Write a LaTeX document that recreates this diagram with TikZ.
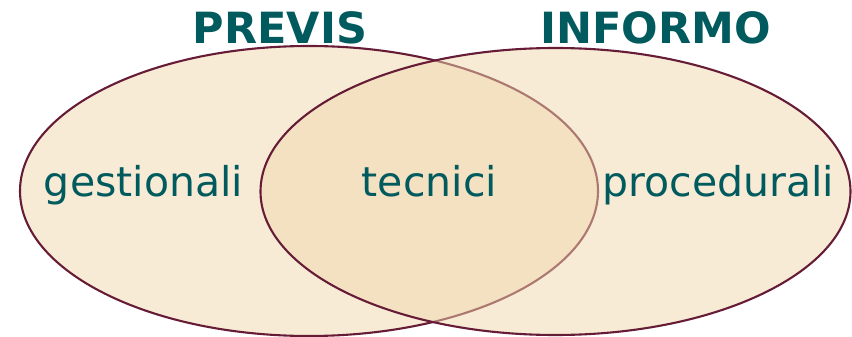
\documentclass[tikz,border=0pt]{standalone}
\usepackage{fontspec}
\setmainfont{DejaVu Sans}
\definecolor{fillc}{HTML}{F1D7AD}
\definecolor{linec}{HTML}{661C36}
\definecolor{textc}{HTML}{005A5E}
\begin{document}
\begin{tikzpicture}[x=1pt,y=-1pt,
  setfill/.style={fill=fillc,fill opacity=0.5,draw=linec,draw opacity=1,line width=2.1pt},
  title/.style={text=textc,font=\fontsize{43}{43}\selectfont\bfseries,anchor=base,inner sep=0pt},
  lbl/.style={text=textc,font=\fontsize{41}{41}\selectfont,anchor=base,inner sep=0pt}]
\useasboundingbox (0,0) rectangle (852,337);
\draw[setfill] (309,191) ellipse [x radius=289, y radius=145];
\draw[setfill] (555.5,191.5) ellipse [x radius=295, y radius=143.5];
\node[title] (previs) at (280,44) {PREVIS};
\node[title] (informo) at (655.5,44) {INFORMO};
\node[lbl] (gest) at (143.5,196) {gestionali};
\node[lbl] (tec) at (429.5,196) {tecnici};
\node[lbl] (proc) at (718.5,196) {procedurali};
\end{tikzpicture}
\end{document}
